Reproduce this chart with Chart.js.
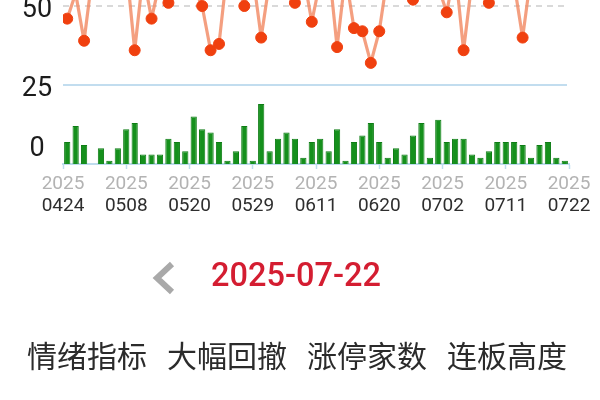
<!DOCTYPE html>
<html>
<head>
<meta charset="utf-8">
<script src="https://cdn.jsdelivr.net/npm/chart.js@4"></script>
<style>
body{margin:0;background:#fff;overflow:hidden;}
#page{position:relative;width:600px;height:400px;overflow:hidden;background:#fff;}
#chartBox{position:absolute;left:0;top:-160px;width:600px;height:390px;}
.date{position:absolute;left:211px;top:255px;font:500 32.5px Roboto,"Noto Sans CJK SC",sans-serif;color:#d41d31;line-height:40px;}
.tab{position:absolute;top:335px;font:30px "Noto Sans CJK SC",sans-serif;color:#2b2b2b;line-height:38px;}
</style>
</head>
<body>
<div id="page">
<div id="chartBox"><canvas id="moodChart" width="600" height="390"></canvas></div>
<svg style="position:absolute;left:0;top:0" width="600" height="400">
<polyline points="172,264 157,278 172,292" fill="none" stroke="#a9a9a9" stroke-width="6"/>
</svg>
<div class="date">2025-07-22</div>
<div class="tab" style="left:27px">情绪指标</div>
<div class="tab" style="left:167px">大幅回撤</div>
<div class="tab" style="left:307px">涨停家数</div>
<div class="tab" style="left:447px">连板高度</div>
</div>

<script>

// 情绪指标 - 数据

let year = "2025";

let dates = [
"0424","0425","0428","0429","0430","0506","0507","0508","0509","0512",
"0513","0514","0515","0516","0519","0520","0521","0522","0523","0526",
"0527","0528","0529","0530","0603","0604","0605","0606","0609","0610",
"0611","0612","0613","0616","0617","0618","0619","0620","0623","0624",
"0625","0626","0627","0630","0701","0702","0703","0704","0707","0708",
"0709","0710","0711","0714","0715","0716","0717","0718","0721","0722"
];

// 绿色柱
let barValues = [
7,12,6,0,5,1,5,11,13,3,
3,3,8,7,4,15,11,10,7,1,
4,12,1,19,4,8,10,8,2,7,
8,4,11,1,7,9,13,7,2,5,
3,9,13,2,14,7,8,8,3,2,
4,7,7,7,6,2,6,7,2,1
];

// 橙色折线
let lineValues = [
46,54,39,60,58,62,57,63,36,60,
46,58,51,60,64,56,50,36,38,62,
58,50,60,40,58,64,56,51,60,45,
58,63,37,60,43,42,32,42,60,57,
63,52,58,62,56,48,62,36,58,60,
51,58,63,57,40,60,58,62,56,60
];

let yLabels = [0,25,50];

let xTicks = [0,7.5,15,22.5,30,37.5,45,52.5,60];


function dateAt(v){
let i = Math.min(Math.floor(v), dates.length-1);
return dates[i];
}


let refLines = {
id:"refLines",
beforeDatasetsDraw(chart){
let ctx = chart.ctx;
let a = chart.chartArea;
let y = chart.scales.y;

ctx.save();

// 50 虚线
ctx.strokeStyle = "#cdcdcd";
ctx.lineWidth = 1.5;
ctx.setLineDash([6,5]);
ctx.beginPath();
ctx.moveTo(a.left, y.getPixelForValue(50));
ctx.lineTo(a.right, y.getPixelForValue(50));
ctx.stroke();

// 25 实线
ctx.setLineDash([]);
ctx.strokeStyle = "#c2ddef";
ctx.lineWidth = 2;
ctx.beginPath();
ctx.moveTo(a.left, y.getPixelForValue(25));
ctx.lineTo(a.right - 2, y.getPixelForValue(25));
ctx.stroke();

ctx.restore();
},
afterDraw(chart){
let ctx = chart.ctx;
let y = chart.scales.y;
ctx.save();
ctx.font = "27px Roboto, sans-serif";
ctx.fillStyle = "#1c1c1c";
ctx.textAlign = "center";
ctx.textBaseline = "middle";
yLabels.forEach(v=>{
let py = y.getPixelForValue(v) + 4;
if(v===0){
py = y.getPixelForValue(v) - 15;
}
ctx.fillText(String(v), 37, py);
});
ctx.restore();
}
};


new Chart(document.getElementById("moodChart"), {

data:{
datasets:[
{
type:"line",
data:lineValues.map((v,i)=>({x:i+0.5,y:v})),
borderColor:"rgba(242,142,106,0.85)",
borderWidth:3.2,
borderJoinStyle:"round",
borderCapStyle:"round",
pointRadius:5.5,
pointBackgroundColor:"#f0400f",
pointBorderColor:"#f0400f",
pointBorderWidth:1,
tension:0,
order:1
},
{
type:"bar",
data:barValues.map((v,i)=>({x:i+0.5,y:v})),
backgroundColor:"#15901c",
borderColor:"#0e7d15",
borderWidth:1,
barPercentage:0.74,
categoryPercentage:1,
order:2
}
]
},

options:{
responsive:false,
animation:false,
devicePixelRatio:1,
layout:{
padding:{top:8,left:0,right:31,bottom:0}
},
plugins:{
legend:{display:false},
tooltip:{enabled:false}
},
scales:{
x:{
type:"linear",
min:0,
max:60,
offset:false,
weight:0,
afterBuildTicks:(s)=>{ s.ticks = xTicks.map(v=>({value:v})); },
afterFit:(s)=>{ s.height = 28; },
grid:{
offset:false,
drawOnChartArea:false,
drawTicks:true,
tickLength:5,
tickColor:"#bfdcee",
tickWidth:1.5
},
border:{color:"#bfdcee",width:2},
ticks:{
autoSkip:false,
maxRotation:0,
padding:4,
color:"#b3b3b3",
font:{family:"Roboto",size:19},
callback:()=>year
}
},
x2:{
type:"linear",
position:"bottom",
min:0,
max:60,
offset:false,
weight:1,
afterBuildTicks:(s)=>{ s.ticks = xTicks.map(v=>({value:v})); },
afterFit:(s)=>{ s.height = 38; },
grid:{display:false,drawTicks:false},
border:{display:false},
ticks:{
autoSkip:false,
maxRotation:0,
padding:3,
color:"#2e2e2e",
font:{family:"Roboto",size:19},
callback:(v)=>dateAt(v)
}
},
y:{
type:"linear",
min:0,
max:100,
afterFit:(s)=>{ s.width = 63; },
grid:{display:false},
border:{display:false},
ticks:{display:false}
}
}
},

plugins:[refLines]

});

</script>
</body>
</html>
